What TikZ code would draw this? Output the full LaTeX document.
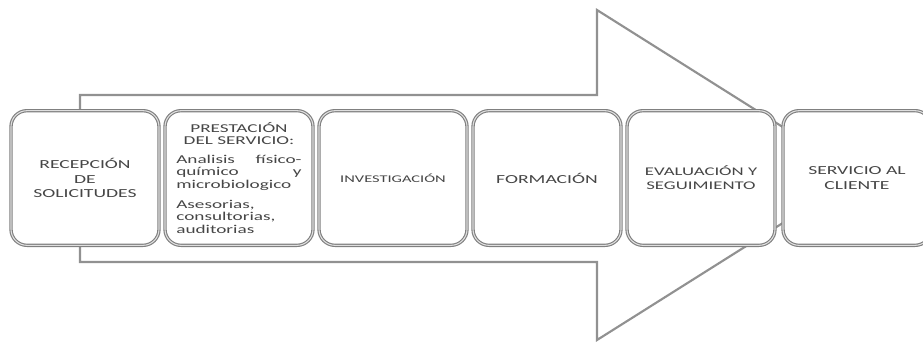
\documentclass[tikz,border=0pt]{standalone}
\usepackage{fontspec}
\setmainfont{Carlito}[FakeStretch=1.6]
\definecolor{linegray}{RGB}{145,145,145}
\definecolor{boxgray}{RGB}{128,128,128}
\definecolor{textgray}{RGB}{70,70,70}
\begin{document}
\begin{tikzpicture}[x=0.75pt,y=0.75pt]
        \tikzstyle{every node}+=[inner sep=0pt]
        \tikzstyle{stage}=[draw=boxgray, line width=0.85pt, double=white!75!boxgray, double distance=0.8pt, rounded corners=12pt, fill=white, minimum width=111pt, minimum height=101pt, align=center, text=textgray, font=\fontsize{9.2}{11}\selectfont]
        \useasboundingbox (0,0) rectangle (923,-344);
        \draw [linegray, line width=1.6pt, fill=white] (80,-95) -- (597,-95) -- (597,-10) -- (859,-175) -- (597,-340) -- (597,-262) -- (80,-262) -- cycle;
        \node [stage] (recep) at (85,-178) {RECEPCIÓN\\DE\\SOLICITUDES};
        \node [stage, font=\fontsize{9}{9.6}\selectfont] (prest) at (239,-178) {PRESTACIÓN\\DEL SERVICIO:\\[4pt]\makebox[94pt][s]{Analisis físico-}\\\makebox[94pt][s]{químico y}\\\makebox[94pt][l]{microbiologico}\\[5pt]\makebox[94pt][l]{Asesorias,}\\\makebox[94pt][l]{consultorias,}\\\makebox[94pt][l]{auditorias}};
        \node [stage, font=\fontsize{7.7}{9}\selectfont] (invest) at (393,-178) {INVESTIGACIÓN};
        \node [stage] (form) at (547,-178) {FORMACIÓN};
        \node [stage, font=\fontsize{8.8}{10.5}\selectfont] (eval) at (701,-178) {EVALUACIÓN Y\\SEGUIMIENTO};
        \node [stage] (client) at (857,-178) {SERVICIO AL\\CLIENTE};
    \end{tikzpicture}
\end{document}
